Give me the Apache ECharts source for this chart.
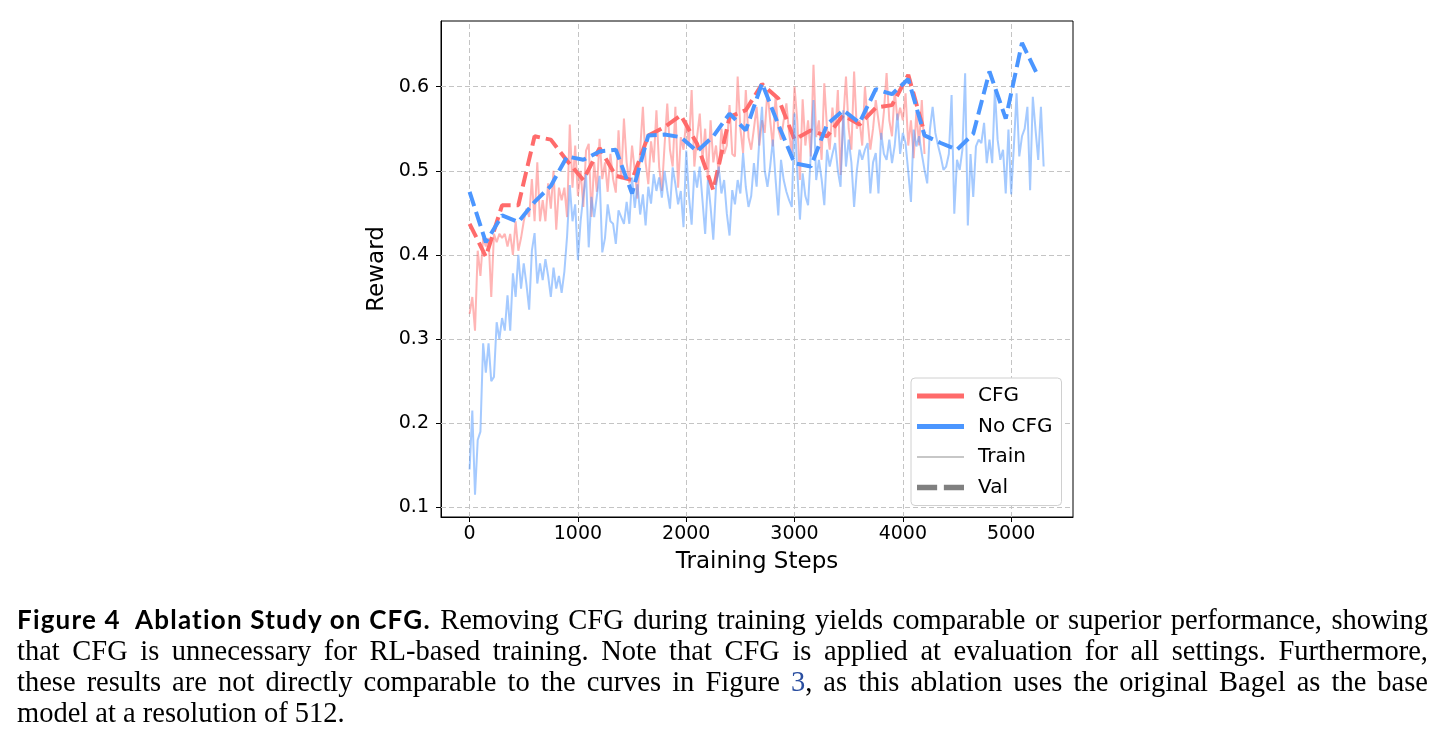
<!DOCTYPE html>
<html>
<head>
<meta charset="utf-8">
<script src="https://cdn.jsdelivr.net/npm/echarts@6/dist/echarts.min.js"></script>
<style>
  html, body { margin: 0; padding: 0; background: #fff; }
  #chart { position: absolute; left: 0; top: 0; width: 1446px; height: 750px; }
  #caption { position: absolute; left: 17px; top: 604px; width: 1411px;
             font-family: 'Liberation Serif', serif; font-size: 28.5px; line-height: 31px; color: #000; }
  #caption .ln { text-align: justify; text-align-last: justify; white-space: nowrap; }
  #caption .last { text-align: left; text-align-last: left; }
  #caption b { display: inline-block; font-family: Lato, 'Noto Sans', sans-serif; font-weight: 700;
               font-size: 26px; letter-spacing: 1.2px; }
  #caption .ref { color: #2a4ea0; }
</style>
</head>
<body>
<div id="chart"></div>
<div id="caption">
  <div class="ln"><b>Figure 4&nbsp;&nbsp;Ablation Study on CFG.</b> Removing CFG during training yields comparable or superior performance, showing</div>
  <div class="ln">that CFG is unnecessary for RL-based training. Note that CFG is applied at evaluation for all settings. Furthermore,</div>
  <div class="ln">these results are not directly comparable to the curves in Figure <span class="ref">3</span>, as this ablation uses the original Bagel as the base</div>
  <div class="ln last">model at a resolution of 512.</div>
</div>
<script>
// training reward logged every 25 steps, validation every 150 steps
var TRAIN_EVERY = 25;
var VAL_EVERY = 150;

var xTicks = [0, 1000, 2000, 3000, 4000, 5000];
var yTicks = [0.1, 0.2, 0.3, 0.4, 0.5, 0.6];

// CFG, train (0 .. 4200)
var cfgTrain = [
  0.33, 0.35, 0.31, 0.405, 0.375, 0.42, 0.41, 0.42, 0.35, 0.425,
  0.415, 0.425, 0.42, 0.425, 0.41, 0.425, 0.40, 0.44, 0.405, 0.42,
  0.44, 0.455, 0.445, 0.49, 0.44, 0.51, 0.44, 0.465, 0.44, 0.485,
  0.455, 0.50, 0.43, 0.48, 0.465, 0.48, 0.445, 0.555, 0.48, 0.53,
  0.47,
  0.50, 0.457, 0.524, 0.532, 0.445, 0.51, 0.475, 0.538, 0.49, 0.51,
  0.475, 0.52, 0.49, 0.474, 0.548, 0.49, 0.562, 0.51, 0.485, 0.53,
  0.50, 0.467, 0.525, 0.576, 0.51, 0.484, 0.535, 0.51, 0.572, 0.505,
  0.476, 0.53, 0.58, 0.525, 0.505, 0.576, 0.48, 0.54, 0.525, 0.56,
  0.53, 0.596, 0.505, 0.54, 0.568, 0.513, 0.55, 0.489, 0.56, 0.51,
  0.53, 0.497, 0.55, 0.52, 0.53, 0.578, 0.52, 0.517, 0.612, 0.55,
  0.521, 0.596, 0.54, 0.525, 0.55, 0.576, 0.53, 0.56, 0.545, 0.596,
  0.56, 0.529, 0.588, 0.55, 0.537, 0.56, 0.58, 0.545, 0.521, 0.60,
  0.56, 0.489, 0.585, 0.53, 0.56, 0.517, 0.626, 0.54, 0.56, 0.513,
  0.604, 0.55, 0.525, 0.575, 0.54, 0.596, 0.495, 0.56, 0.612, 0.55,
  0.525, 0.618, 0.55, 0.56, 0.53, 0.60, 0.56, 0.525, 0.55, 0.584,
  0.56, 0.537, 0.57, 0.616, 0.56, 0.541, 0.596, 0.56, 0.575, 0.56,
  0.592, 0.53, 0.56, 0.515, 0.57, 0.53, 0.584, 0.52
];

// No CFG, train (0 .. 5300)
var noCfgTrain = [
  0.145, 0.215, 0.115, 0.18, 0.19, 0.295, 0.26, 0.295, 0.25, 0.255,
  0.32, 0.30, 0.325, 0.31, 0.352, 0.31, 0.378, 0.35, 0.40, 0.36,
  0.39, 0.365, 0.335, 0.405, 0.426, 0.366, 0.39, 0.37, 0.395, 0.375,
  0.35, 0.385, 0.36, 0.375, 0.355, 0.38, 0.422, 0.483, 0.44, 0.46,
  0.394,
  0.44, 0.47, 0.496, 0.409, 0.469, 0.445, 0.47, 0.494, 0.403, 0.42,
  0.46, 0.44, 0.437, 0.413, 0.453, 0.445, 0.437, 0.463, 0.437, 0.492,
  0.456, 0.484, 0.448, 0.472, 0.435, 0.481, 0.461, 0.496, 0.476, 0.492,
  0.468, 0.50, 0.476, 0.455, 0.504, 0.484, 0.46, 0.476, 0.433, 0.524,
  0.47, 0.436, 0.50, 0.48, 0.505, 0.465, 0.425, 0.489, 0.457, 0.418,
  0.481, 0.505, 0.473, 0.489, 0.449, 0.423, 0.477, 0.46, 0.489, 0.473,
  0.521, 0.481, 0.457, 0.47, 0.509, 0.481, 0.537, 0.576, 0.50, 0.481,
  0.505, 0.537, 0.49, 0.447, 0.513, 0.489, 0.475, 0.465, 0.457, 0.568,
  0.50, 0.442, 0.497, 0.47, 0.459, 0.52, 0.584, 0.489, 0.513, 0.49,
  0.459, 0.525, 0.505, 0.52, 0.533, 0.50, 0.481, 0.572, 0.505, 0.537,
  0.51, 0.457, 0.50, 0.525, 0.513, 0.525, 0.533, 0.473, 0.51, 0.521,
  0.473, 0.545, 0.52, 0.513, 0.537, 0.509, 0.53, 0.568, 0.52, 0.545,
  0.533, 0.499, 0.463, 0.549, 0.529, 0.541, 0.52, 0.501, 0.485, 0.549,
  0.576, 0.545, 0.53, 0.517, 0.501, 0.505, 0.52, 0.59, 0.449, 0.513,
  0.501, 0.525, 0.616, 0.435, 0.52, 0.469, 0.529, 0.537, 0.533, 0.557,
  0.509, 0.537, 0.509, 0.596, 0.537, 0.513, 0.525, 0.473, 0.549, 0.472,
  0.529, 0.592, 0.517, 0.541, 0.55, 0.576, 0.477, 0.588, 0.549, 0.513,
  0.576, 0.505
];

// CFG, val (0 .. 4200)
var cfgVal = [
  0.437, 0.398, 0.459, 0.459, 0.541, 0.537, 0.512, 0.489, 0.527, 0.494,
  0.489, 0.542, 0.552, 0.566, 0.532, 0.477, 0.564, 0.572, 0.603, 0.586,
  0.537, 0.548, 0.541, 0.566, 0.555, 0.575, 0.578, 0.614, 0.545
];

// No CFG, val (0 .. 5250)
var noCfgVal = [
  0.475, 0.415, 0.447, 0.439, 0.463, 0.482, 0.517, 0.513, 0.523, 0.525,
  0.473, 0.542, 0.543, 0.540, 0.523, 0.541, 0.568, 0.548, 0.604, 0.555,
  0.509, 0.505, 0.555, 0.572, 0.557, 0.597, 0.591, 0.609, 0.542, 0.533,
  0.525, 0.544, 0.618, 0.562, 0.652, 0.612
];

function withSteps(values, every) {
  return values.map(function (v, i) { return [i * every, v]; });
}

var RED = '#ff6b6b';
var BLUE = '#4b96ff';
var FONT = 'DejaVu Sans';

var gridLines = xTicks.map(function (v) { return { xAxis: v }; })
  .concat(yTicks.map(function (v) { return { yAxis: v }; }));

function legendItem(name, icon, color) {
  return {
    name: name,
    icon: icon,
    itemStyle: { color: color, borderWidth: 0, decal: 'none' },
    lineStyle: { width: 0 }
  };
}

var chart = echarts.init(document.getElementById('chart'), null, { renderer: 'canvas' });

var option = {
  animation: false,
  backgroundColor: '#fff',
  grid: {
    left: 441, top: 21, right: 373, bottom: 233,
    show: true, borderColor: '#000', borderWidth: 1, backgroundColor: 'transparent'
  },
  xAxis: {
    type: 'value',
    min: -264, max: 5571,
    name: 'Training Steps', nameLocation: 'middle', nameGap: 34,
    nameTextStyle: { fontSize: 23, fontFamily: FONT, color: '#000' },
    axisLine: { show: true, onZero: false, lineStyle: { color: '#000', width: 1 } },
    axisTick: { show: true, customValues: xTicks, length: 5, lineStyle: { color: '#000' } },
    axisLabel: {
      customValues: xTicks, margin: 8, fontSize: 19, fontFamily: FONT, color: '#000',
      formatter: function (v) { return String(v); }
    },
    splitLine: { show: false }
  },
  yAxis: {
    type: 'value',
    min: 0.0885, max: 0.678,
    name: 'Reward', nameLocation: 'middle', nameGap: 52,
    nameTextStyle: { fontSize: 23, fontFamily: FONT, color: '#000' },
    axisLine: { show: true, onZero: false, lineStyle: { color: '#000', width: 1 } },
    axisTick: { show: true, customValues: yTicks, length: 5, lineStyle: { color: '#000' } },
    axisLabel: {
      customValues: yTicks, margin: 12, fontSize: 19, fontFamily: FONT, color: '#000',
      formatter: function (v) { return v.toFixed(1); }
    },
    splitLine: { show: false }
  },
  legend: {
    left: 911, top: 378,
    orient: 'vertical',
    selectedMode: false,
    padding: [8, 9, 8, 6],
    itemGap: 10.5,
    itemWidth: 47,
    itemHeight: 20,
    symbolKeepAspect: true,
    backgroundColor: '#fff',
    borderColor: '#d0d0d0', borderWidth: 1, borderRadius: 4,
    itemStyle: { borderWidth: 0 },
    lineStyle: { width: 0 },
    textStyle: { fontSize: 20, fontFamily: FONT, color: '#000', padding: [0, 0, 0, 9] },
    data: [
      legendItem('CFG', 'path://M0,0H47V5H0Z', RED),
      legendItem('No CFG', 'path://M0,0H47V5H0Z', BLUE),
      legendItem('Train', 'path://M0,0H47V1.5H0Z', '#b4b4b4'),
      legendItem('Val', 'path://M0,0H18V5H0Z M24,0H42V5H24Z', '#808080')
    ]
  },
  series: [
    {
      name: 'grid',
      type: 'line',
      data: [],
      silent: true,
      z: 1,
      markLine: {
        z: 1,
        silent: true, symbol: 'none', label: { show: false },
        lineStyle: { color: '#c4c4c4', width: 1, type: [5, 3] },
        data: gridLines
      }
    },
    {
      name: 'CFG train',
      type: 'line',
      data: withSteps(cfgTrain, TRAIN_EVERY),
      showSymbol: false,
      lineStyle: { color: RED, width: 2, opacity: 0.5 },
      itemStyle: { color: RED }
    },
    {
      name: 'CFG',
      type: 'line',
      data: withSteps(cfgVal, VAL_EVERY),
      showSymbol: false,
      lineStyle: { color: RED, width: 4, type: [15, 6], cap: 'butt' },
      itemStyle: { color: RED }
    },
    {
      name: 'No CFG train',
      type: 'line',
      data: withSteps(noCfgTrain, TRAIN_EVERY),
      showSymbol: false,
      lineStyle: { color: BLUE, width: 2, opacity: 0.5 },
      itemStyle: { color: BLUE }
    },
    {
      name: 'No CFG',
      type: 'line',
      data: withSteps(noCfgVal, VAL_EVERY),
      showSymbol: false,
      lineStyle: { color: BLUE, width: 4, type: [15, 6], cap: 'butt' },
      itemStyle: { color: BLUE }
    },
    // legend-only entries
    { name: 'Train', type: 'line', data: [], itemStyle: { color: '#b4b4b4' }, lineStyle: { color: '#b4b4b4' } },
    { name: 'Val', type: 'line', data: [], itemStyle: { color: '#808080' }, lineStyle: { color: '#808080' } }
  ]
};

chart.setOption(option);
</script>
</body>
</html>
